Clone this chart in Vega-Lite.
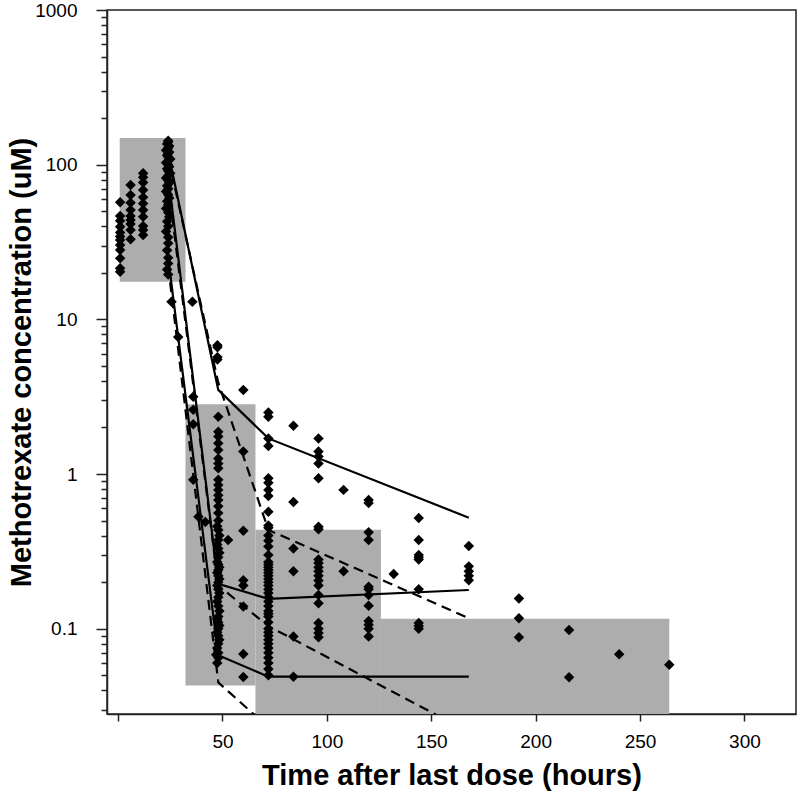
{
  "$schema": "https://vega.github.io/schema/vega-lite/v6.json",
  "width": 689,
  "height": 704,
  "autosize": "none",
  "padding": {"left": 107, "top": 10, "right": 4, "bottom": 80},
  "background": "white",
  "config": {
    "view": {"stroke": "#222", "strokeWidth": 1.5},
    "axis": {
      "grid": false,
      "domainColor": "#222",
      "domainWidth": 1.5,
      "tickColor": "#222",
      "tickWidth": 1.5,
      "labelFont": "Liberation Sans",
      "labelFontSize": 19,
      "labelColor": "black",
      "titleFont": "Liberation Sans",
      "titleFontWeight": "bold",
      "titleFontSize": 29,
      "titleColor": "black"
    }
  },
  "datasets": {
    "bins": [
      {"x1": 0.8, "x2": 32.3, "lo": 17.5, "hi": 149},
      {"x1": 32.3, "x2": 65.8, "lo": 0.0429, "hi": 2.83},
      {"x1": 65.8, "x2": 125.9, "lo": 0.01, "hi": 0.437},
      {"x1": 125.9, "x2": 264, "lo": 0.01, "hi": 0.116}
    ],
    "lines": [
      {"id": "s1", "type": "solid", "t": 24, "c": 120},
      {"id": "s1", "type": "solid", "t": 48, "c": 3.5},
      {"id": "s1", "type": "solid", "t": 72, "c": 1.70},
      {"id": "s1", "type": "solid", "t": 168, "c": 0.522},
      {"id": "s2", "type": "solid", "t": 24, "c": 85},
      {"id": "s2", "type": "solid", "t": 48, "c": 0.195},
      {"id": "s2", "type": "solid", "t": 72, "c": 0.156},
      {"id": "s2", "type": "solid", "t": 168, "c": 0.178},
      {"id": "s3", "type": "solid", "t": 24, "c": 25},
      {"id": "s3", "type": "solid", "t": 48, "c": 0.0674},
      {"id": "s3", "type": "solid", "t": 72, "c": 0.049},
      {"id": "s3", "type": "solid", "t": 168, "c": 0.049},
      {"id": "d1", "type": "dashed", "t": 24, "c": 112},
      {"id": "d1", "type": "dashed", "t": 48, "c": 3.9},
      {"id": "d1", "type": "dashed", "t": 72, "c": 0.435},
      {"id": "d1", "type": "dashed", "t": 168, "c": 0.117},
      {"id": "d2", "type": "dashed", "t": 24, "c": 75},
      {"id": "d2", "type": "dashed", "t": 48, "c": 0.19},
      {"id": "d2", "type": "dashed", "t": 72, "c": 0.104},
      {"id": "d2", "type": "dashed", "t": 168, "c": 0.0215},
      {"id": "d3", "type": "dashed", "t": 24, "c": 22},
      {"id": "d3", "type": "dashed", "t": 48, "c": 0.045},
      {"id": "d3", "type": "dashed", "t": 72, "c": 0.023},
      {"id": "d3", "type": "dashed", "t": 168, "c": 0.008}
    ],
    "points": [
      {"t": 1, "c": 57.2}, {"t": 1, "c": 46.6}, {"t": 1, "c": 43.4}, {"t": 1, "c": 39.7}, {"t": 1, "c": 36.5}, {"t": 1, "c": 34.3}, {"t": 1, "c": 32.6}, {"t": 1, "c": 30.3}, {"t": 1, "c": 28.1}, {"t": 1, "c": 24.8}, {"t": 1, "c": 21.4}, {"t": 1, "c": 20.3},
      {"t": 6, "c": 74}, {"t": 6, "c": 63.7}, {"t": 6, "c": 56.8}, {"t": 6, "c": 50.9}, {"t": 6, "c": 46.6}, {"t": 6, "c": 43.9}, {"t": 6, "c": 41.4}, {"t": 6, "c": 37.8}, {"t": 6, "c": 33},
      {"t": 12, "c": 88}, {"t": 12, "c": 82.9}, {"t": 12, "c": 76.6}, {"t": 12, "c": 68.6}, {"t": 12, "c": 61.5}, {"t": 12, "c": 56.2}, {"t": 12, "c": 50.9}, {"t": 12, "c": 46.1}, {"t": 12, "c": 40.1}, {"t": 12, "c": 37.8}, {"t": 12, "c": 35.1},
      {"t": 24, "c": 143}, {"t": 24, "c": 140}, {"t": 23.5, "c": 136}, {"t": 24.5, "c": 132}, {"t": 24, "c": 128}, {"t": 23, "c": 124}, {"t": 24.5, "c": 121}, {"t": 24, "c": 118}, {"t": 23.5, "c": 115}, {"t": 24, "c": 112}, {"t": 25, "c": 109}, {"t": 24, "c": 106}, {"t": 23, "c": 103}, {"t": 24, "c": 100}, {"t": 24.5, "c": 97}, {"t": 23.5, "c": 94}, {"t": 24, "c": 91}, {"t": 25, "c": 88}, {"t": 24, "c": 85}, {"t": 23, "c": 82}, {"t": 24, "c": 79}, {"t": 24.5, "c": 76}, {"t": 23.5, "c": 73}, {"t": 24, "c": 70}, {"t": 23, "c": 67}, {"t": 24, "c": 64}, {"t": 24.5, "c": 61}, {"t": 23.5, "c": 58}, {"t": 24, "c": 55}, {"t": 23, "c": 52}, {"t": 24, "c": 49}, {"t": 24.5, "c": 46}, {"t": 23.5, "c": 43}, {"t": 24, "c": 40}, {"t": 23, "c": 37}, {"t": 24, "c": 34}, {"t": 24, "c": 31}, {"t": 23.5, "c": 28}, {"t": 24, "c": 25}, {"t": 24, "c": 23}, {"t": 23.5, "c": 21}, {"t": 24, "c": 19.5},
      {"t": 25.6, "c": 13}, {"t": 35.6, "c": 13}, {"t": 28.8, "c": 7.7},
      {"t": 36, "c": 3.16}, {"t": 36, "c": 2.6}, {"t": 36, "c": 2.1}, {"t": 36, "c": 0.92}, {"t": 38.5, "c": 0.53}, {"t": 41.8, "c": 0.49},
      {"t": 47.6, "c": 6.8}, {"t": 47.6, "c": 6.6}, {"t": 47.6, "c": 5.7}, {"t": 47.6, "c": 5.5},
      {"t": 48, "c": 2.35}, {"t": 48, "c": 1.88}, {"t": 48, "c": 1.75}, {"t": 48, "c": 1.58}, {"t": 48, "c": 1.43}, {"t": 48, "c": 1.26}, {"t": 48, "c": 1.17}, {"t": 48, "c": 1.09}, {"t": 48, "c": 0.92}, {"t": 48, "c": 0.85}, {"t": 48, "c": 0.79}, {"t": 48, "c": 0.73}, {"t": 48, "c": 0.68}, {"t": 48, "c": 0.62}, {"t": 48, "c": 0.56}, {"t": 48, "c": 0.5}, {"t": 47.5, "c": 0.46}, {"t": 48, "c": 0.435}, {"t": 48.5, "c": 0.4}, {"t": 48, "c": 0.375}, {"t": 47.5, "c": 0.35}, {"t": 48, "c": 0.33}, {"t": 48.5, "c": 0.31}, {"t": 48, "c": 0.29}, {"t": 47.5, "c": 0.27}, {"t": 48, "c": 0.26}, {"t": 48.5, "c": 0.25}, {"t": 48, "c": 0.24}, {"t": 47.5, "c": 0.23}, {"t": 48, "c": 0.22}, {"t": 48.5, "c": 0.21}, {"t": 48, "c": 0.2}, {"t": 47.5, "c": 0.19}, {"t": 48, "c": 0.18}, {"t": 48.5, "c": 0.17}, {"t": 48, "c": 0.16}, {"t": 47.5, "c": 0.15}, {"t": 48, "c": 0.14}, {"t": 48.5, "c": 0.13}, {"t": 48, "c": 0.12}, {"t": 47.5, "c": 0.115}, {"t": 48, "c": 0.11}, {"t": 48.5, "c": 0.105}, {"t": 48, "c": 0.1}, {"t": 47.5, "c": 0.095}, {"t": 48, "c": 0.09}, {"t": 48.5, "c": 0.085}, {"t": 48, "c": 0.08}, {"t": 47.5, "c": 0.075}, {"t": 48, "c": 0.07}, {"t": 47, "c": 0.068}, {"t": 48, "c": 0.065}, {"t": 47.5, "c": 0.06},
      {"t": 52.7, "c": 0.375},
      {"t": 60, "c": 3.5}, {"t": 60, "c": 1.4}, {"t": 60, "c": 0.43}, {"t": 60, "c": 0.206}, {"t": 60, "c": 0.19}, {"t": 60, "c": 0.139}, {"t": 60, "c": 0.0687}, {"t": 60, "c": 0.0487},
      {"t": 72, "c": 2.5}, {"t": 72, "c": 2.35}, {"t": 72, "c": 1.7}, {"t": 72, "c": 1.52}, {"t": 72, "c": 0.94}, {"t": 72, "c": 0.88}, {"t": 72, "c": 0.79}, {"t": 72, "c": 0.72}, {"t": 72, "c": 0.57}, {"t": 72, "c": 0.465}, {"t": 72, "c": 0.45}, {"t": 72, "c": 0.4}, {"t": 72, "c": 0.37}, {"t": 72, "c": 0.34}, {"t": 72, "c": 0.3}, {"t": 72, "c": 0.27}, {"t": 72, "c": 0.26}, {"t": 72, "c": 0.25}, {"t": 72, "c": 0.24}, {"t": 72, "c": 0.23}, {"t": 72, "c": 0.22}, {"t": 72, "c": 0.21}, {"t": 72, "c": 0.2}, {"t": 72, "c": 0.19}, {"t": 72, "c": 0.18}, {"t": 72, "c": 0.17}, {"t": 72, "c": 0.16}, {"t": 72, "c": 0.15}, {"t": 72, "c": 0.14}, {"t": 72, "c": 0.13}, {"t": 72, "c": 0.125}, {"t": 72, "c": 0.12}, {"t": 72, "c": 0.11}, {"t": 72, "c": 0.1}, {"t": 72, "c": 0.095}, {"t": 72, "c": 0.09}, {"t": 72, "c": 0.085}, {"t": 72, "c": 0.08}, {"t": 72, "c": 0.075}, {"t": 72, "c": 0.07}, {"t": 72, "c": 0.065}, {"t": 72, "c": 0.06}, {"t": 72, "c": 0.055}, {"t": 72, "c": 0.05},
      {"t": 84, "c": 2.05}, {"t": 84, "c": 0.66}, {"t": 84, "c": 0.33}, {"t": 84, "c": 0.235}, {"t": 84, "c": 0.089}, {"t": 84, "c": 0.049},
      {"t": 96, "c": 1.7}, {"t": 96, "c": 1.4}, {"t": 96, "c": 1.3}, {"t": 96, "c": 1.17}, {"t": 96, "c": 0.94}, {"t": 96, "c": 0.457}, {"t": 96, "c": 0.44}, {"t": 96, "c": 0.28}, {"t": 96, "c": 0.266}, {"t": 96, "c": 0.25}, {"t": 96, "c": 0.235}, {"t": 96, "c": 0.22}, {"t": 96, "c": 0.205}, {"t": 96, "c": 0.19}, {"t": 96, "c": 0.165}, {"t": 96, "c": 0.146}, {"t": 96, "c": 0.109}, {"t": 96, "c": 0.1}, {"t": 96, "c": 0.094}, {"t": 96, "c": 0.088},
      {"t": 108, "c": 0.79}, {"t": 108, "c": 0.235},
      {"t": 120, "c": 0.68}, {"t": 120, "c": 0.65}, {"t": 120, "c": 0.42}, {"t": 120, "c": 0.375}, {"t": 120, "c": 0.187}, {"t": 120, "c": 0.18}, {"t": 120, "c": 0.165}, {"t": 120, "c": 0.141}, {"t": 120, "c": 0.112}, {"t": 120, "c": 0.106}, {"t": 120, "c": 0.1}, {"t": 120, "c": 0.089},
      {"t": 132, "c": 0.226},
      {"t": 144, "c": 0.52}, {"t": 144, "c": 0.375}, {"t": 144, "c": 0.3}, {"t": 144, "c": 0.29}, {"t": 144, "c": 0.28}, {"t": 144, "c": 0.18}, {"t": 144, "c": 0.109}, {"t": 144, "c": 0.104}, {"t": 144, "c": 0.1},
      {"t": 168, "c": 0.343}, {"t": 168, "c": 0.253}, {"t": 168, "c": 0.235}, {"t": 168, "c": 0.22}, {"t": 168, "c": 0.206},
      {"t": 192, "c": 0.157}, {"t": 192, "c": 0.117}, {"t": 192, "c": 0.088},
      {"t": 216, "c": 0.098}, {"t": 216, "c": 0.0486},
      {"t": 240, "c": 0.0685},
      {"t": 264, "c": 0.0584}
    ]
  },
  "layer": [
    {
      "data": {"name": "bins"},
      "mark": {"type": "rect", "color": "#adadad", "clip": true},
      "encoding": {
        "x": {"field": "x1", "type": "quantitative",
          "scale": {"domain": [-5.3, 324.7], "nice": false, "zero": false},
          "axis": {
            "values": [0, 50, 100, 150, 200, 250, 300],
            "labelExpr": "datum.value == 0 ? '' : datum.label",
            "tickSize": 7,
            "labelPadding": 11,
            "title": "Time after last dose (hours)",
            "titlePadding": 10
          }
        },
        "x2": {"field": "x2"},
        "y": {"field": "hi", "type": "quantitative",
          "scale": {"type": "log", "domain": [0.0281, 1000], "nice": false},
          "axis": {
            "values": [0.03, 0.04, 0.05, 0.06, 0.07, 0.08, 0.09, 0.1, 0.2, 0.3, 0.4, 0.5, 0.6, 0.7, 0.8, 0.9, 1, 2, 3, 4, 5, 6, 7, 8, 9, 10, 20, 30, 40, 50, 60, 70, 80, 90, 100, 200, 300, 400, 500, 600, 700, 800, 900, 1000],
            "labelExpr": "datum.value == 0.1 ? '0.1' : datum.value == 1 ? '1' : datum.value == 10 ? '10' : datum.value == 100 ? '100' : datum.value == 1000 ? '1000' : ''",
            "tickSize": {"condition": {"test": "datum.value == 0.1 || datum.value == 1 || datum.value == 10 || datum.value == 100 || datum.value == 1000", "value": 11}, "value": 6},
            "labelPadding": 19,
            "labelOverlap": false,
            "title": "Methotrexate concentration (uM)",
            "titlePadding": -2
          }
        },
        "y2": {"field": "lo"}
      }
    },
    {
      "data": {"name": "lines"},
      "transform": [{"filter": "datum.type == 'solid'"}],
      "mark": {"type": "line", "color": "black", "strokeWidth": 2.2, "clip": true},
      "encoding": {
        "x": {"field": "t", "type": "quantitative"},
        "y": {"field": "c", "type": "quantitative"},
        "detail": {"field": "id"}
      }
    },
    {
      "data": {"name": "lines"},
      "transform": [{"filter": "datum.type == 'dashed'"}],
      "mark": {"type": "line", "color": "black", "strokeWidth": 2.2, "strokeDash": [10, 6], "clip": true},
      "encoding": {
        "x": {"field": "t", "type": "quantitative"},
        "y": {"field": "c", "type": "quantitative"},
        "detail": {"field": "id"}
      }
    },
    {
      "data": {"name": "points"},
      "mark": {"type": "point", "shape": "diamond", "filled": true, "color": "black", "opacity": 1, "size": 110},
      "encoding": {
        "x": {"field": "t", "type": "quantitative"},
        "y": {"field": "c", "type": "quantitative"}
      }
    }
  ]
}
